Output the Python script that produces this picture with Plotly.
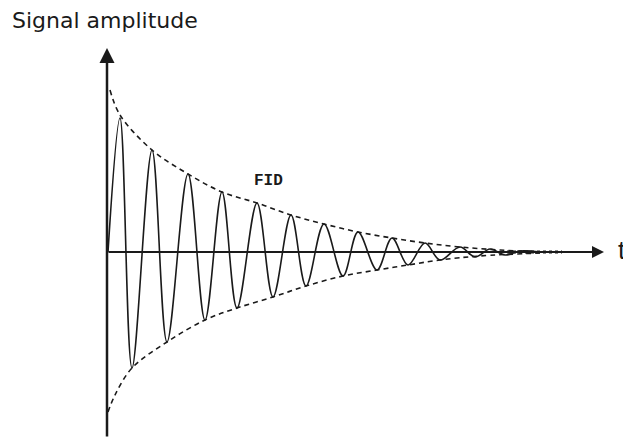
import plotly.graph_objects as go

# extrema of the FID oscillation (t in arbitrary units)
sig_t = [1, 13, 25, 45, 60, 81, 98, 115, 130, 150, 166, 184, 199, 217, 236,
         251, 270, 285, 301, 318, 333, 353, 368, 383, 398, 413, 433]
sig_amp = [0, 134, -116, 102, -90, 78, -68, 60, -56, 49, -45, 37, -34, 28, -24,
           20, -18, 14, -13, 9, -8, 5, -5, 3, -3, 1, 0]

# dashed envelopes
upper_t = [3, 13, 45, 81, 115, 150, 184, 217, 251, 285, 318, 353, 393, 433]
upper_amp = [162, 137, 102, 78, 60, 49, 37, 28, 20, 14, 9, 5, 2, 0]
lower_t = [1, 8, 25, 60, 98, 130, 166, 199, 236, 270, 301, 333, 373, 433]
lower_amp = [-160, -143, -116, -90, -68, -56, -45, -34, -24, -18, -13, -8, -4, -1]

tail_t = [400, 455]
tail_amp = [0, 0]

ink = "#1a1a1a"

fig = go.Figure()
fig.add_trace(go.Scatter(x=upper_t, y=upper_amp, mode="lines",
                         line=dict(color=ink, width=1.6, dash="5px,4px", shape="spline")))
fig.add_trace(go.Scatter(x=lower_t, y=lower_amp, mode="lines",
                         line=dict(color=ink, width=1.6, dash="5px,4px", shape="spline")))
fig.add_trace(go.Scatter(x=sig_t, y=sig_amp, mode="lines",
                         line=dict(color=ink, width=1.6, shape="spline", smoothing=1.0)))
fig.add_trace(go.Scatter(x=tail_t, y=tail_amp, mode="lines",
                         line=dict(color=ink, width=3, dash="dot")))

# axes drawn as arrows
fig.add_annotation(x=497, y=0, ax=0, ay=0, xref="x", yref="y", axref="x", ayref="y",
                   text="", showarrow=True, arrowhead=2, arrowsize=1.2,
                   arrowwidth=2, arrowcolor=ink)
fig.add_annotation(x=0, y=204, ax=0, ay=-186, xref="x", yref="y", axref="x", ayref="y",
                   text="", showarrow=True, arrowhead=2, arrowsize=1.2,
                   arrowwidth=2.5, arrowcolor=ink)

fig.add_annotation(x=515, y=2, text="t", showarrow=False, xanchor="center",
                   font=dict(family="Liberation Sans", size=26, color=ink))
fig.add_annotation(x=161, y=71, text="<b>FID</b>", showarrow=False,
                   font=dict(family="Liberation Mono", size=16, color=ink))
fig.add_annotation(x=2 / 623, y=1 - 12 / 435, xref="paper", yref="paper",
                   text="Signal amplitude", showarrow=False,
                   xanchor="left", yanchor="middle",
                   font=dict(family="DejaVu Sans", size=22, color=ink))

# the page body keeps its 8px margin, so the figure is 8px smaller each way
fig.update_layout(
    width=623, height=435,
    margin=dict(l=0, r=0, t=0, b=0, autoexpand=False),
    paper_bgcolor="white", plot_bgcolor="white",
    showlegend=False,
    xaxis=dict(range=[-99, 524], visible=False),
    yaxis=dict(range=[-191, 244], visible=False),
)

fig.write_html("out.html")
